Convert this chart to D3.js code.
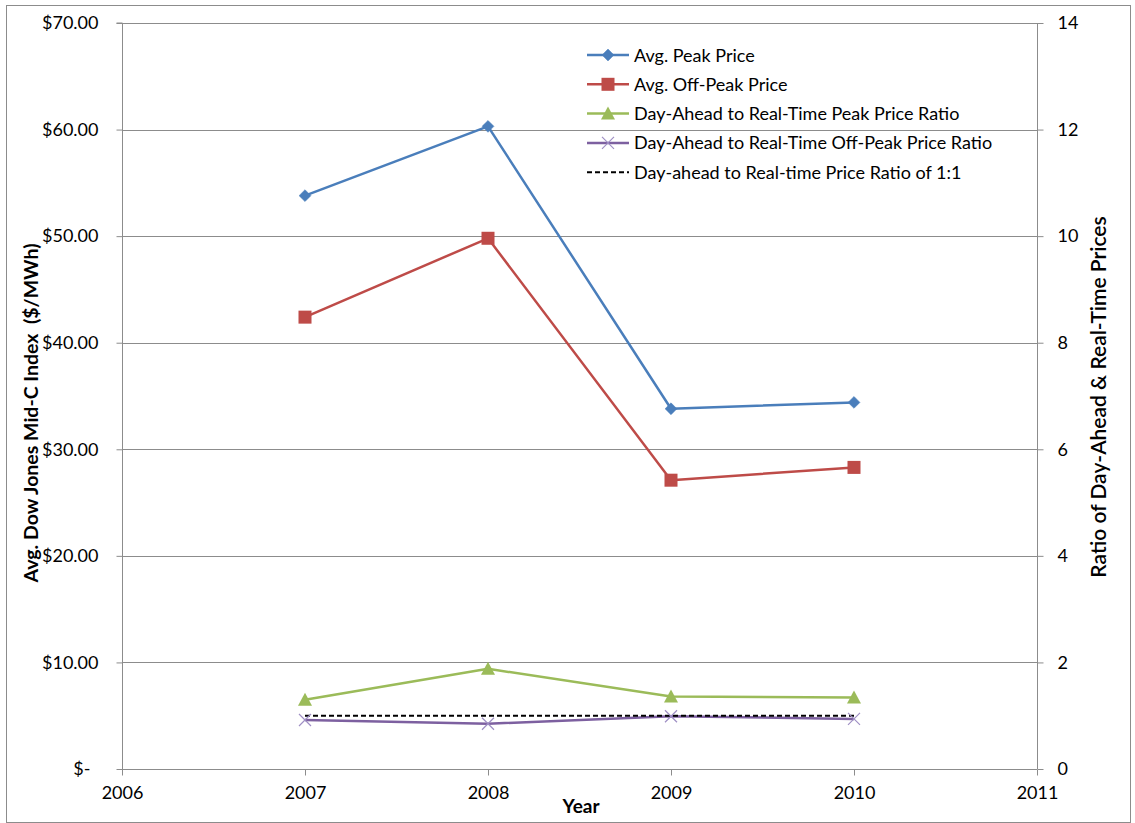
<!DOCTYPE html>
<html><head><meta charset="utf-8">
<script src="https://cdn.jsdelivr.net/npm/d3@7"></script>
<style>
body{margin:0;background:#fff;}
text{font-family:Lato,"Open Sans",sans-serif;fill:#000;}
</style></head>
<body><svg id="c" width="1135" height="823"></svg>
<script>
const years = [2007, 2008, 2009, 2010];
const peakPrice = [53.8, 60.3, 33.8, 34.4];
const offPeakPrice = [42.4, 49.8, 27.1, 28.3];
const peakRatio = [1.30, 1.88, 1.36, 1.34];
const offPeakRatio = [0.92, 0.85, 0.99, 0.94];
const parityRatio = [1, 1, 1, 1];
const xTicks = [2006, 2007, 2008, 2009, 2010, 2011];
const leftTicks = [0, 10, 20, 30, 40, 50, 60, 70];
const rightTicks = [0, 2, 4, 6, 8, 10, 12, 14];
const legendLabels = ["Avg. Peak Price", "Avg. Off-Peak Price", "Day-Ahead to Real-Time Peak Price Ratio",
  "Day-Ahead to Real-Time Off-Peak Price Ratio", "Day-ahead to Real-time Price Ratio of 1:1"];

const svg = d3.select("#c");
const L = 122, R = 1037, T = 23, B = 769;
const x = d3.scaleLinear().domain([2006, 2011]).range([L, R]);
const yL = d3.scaleLinear().domain([0, 70]).range([B, T]);
const yR = d3.scaleLinear().domain([0, 14]).range([B, T]);
const grid = "#8c8c8c";
const tickFont = 18;

// outer border
svg.append("rect").attr("x", 6.5).attr("y", 5.5).attr("width", 1124).attr("height", 817)
  .attr("fill", "none").attr("stroke", "#8c8c8c").attr("stroke-width", 1);

// gridlines
svg.append("g").selectAll("line").data(leftTicks.filter(d => d > 0)).join("line")
  .attr("x1", L).attr("x2", R).attr("y1", d => Math.round(yL(d)) + 0.5).attr("y2", d => Math.round(yL(d)) + 0.5)
  .attr("stroke", grid).attr("stroke-width", 1);

const fmt = d => d === 0 ? "$-" : "$" + d.toFixed(2);
const axL = svg.append("g").attr("transform", `translate(${L + 0.5},0)`)
  .call(d3.axisLeft(yL).tickValues(leftTicks).tickFormat(fmt).tickSize(6).tickPadding(18));
const axR = svg.append("g").attr("transform", `translate(${R + 0.5},0)`)
  .call(d3.axisRight(yR).tickValues(rightTicks).tickFormat(d => d).tickSize(6).tickPadding(14));
const axB = svg.append("g").attr("transform", `translate(0,${B + 0.5})`)
  .call(d3.axisBottom(x).tickValues(xTicks).tickFormat(d => d).tickSize(6).tickPadding(11));
[axL, axR, axB].forEach(a => {
  a.selectAll("path").attr("stroke", grid);
  a.selectAll("line").attr("stroke", grid);
  a.selectAll("text").attr("font-size", tickFont).attr("fill", "#262626")
    .style("font-family", "Lato, 'Open Sans', sans-serif");
});
axL.select("path").attr("d", `M-6,${T}H0V${B + 6}`);
axR.select("path").attr("d", `M0,${T}V${B}`);
axB.select("path").attr("d", `M${L},0H${R}`);
axL.selectAll(".tick").filter(d => d === 0).select("text").attr("dx", -8);

// titles
svg.append("text").attr("x", 581).attr("y", 813).attr("text-anchor", "middle")
  .attr("font-size", 19).attr("font-weight", "bold").text("Year");
svg.append("text").attr("transform", "translate(38,413) rotate(-90)").attr("text-anchor", "middle")
  .attr("font-size", 19.5).attr("font-weight", "bold").style("white-space", "pre")
  .text("Avg. Dow Jones Mid-C Index  ($/MWh)");
svg.append("text").attr("transform", "translate(1106,397) rotate(-90)").attr("text-anchor", "middle")
  .attr("font-size", 21).attr("font-weight", 600).text("Ratio of Day-Ahead & Real-Time Prices");

const blue = "#4a7ebb", red = "#be4b48", green = "#9bbb59", purple = "#7d60a0";

function series(vals, yS, color, w, dash) {
  const line = d3.line().x((d, i) => x(years[i])).y(d => yS(d));
  svg.append("path").datum(vals).attr("d", line).attr("fill", "none")
    .attr("stroke", color).attr("stroke-width", w).attr("stroke-dasharray", dash || null)
    .attr("stroke-linejoin", "round");
}
function markers(vals, yS, kind) {
  const g = svg.append("g");
  vals.forEach((v, i) => drawMarker(g, x(years[i]), yS(v), kind));
}
function drawMarker(g, cx, cy, kind) {
  if (kind === "diamond") {
    g.append("path").attr("d", d3.symbol(d3.symbolDiamond2, 90)()).attr("transform", `translate(${cx},${cy})`)
      .attr("fill", blue).attr("stroke", blue).attr("stroke-width", 0.5);
  } else if (kind === "square") {
    g.append("rect").attr("x", cx - 6.5).attr("y", cy - 6.5).attr("width", 13).attr("height", 13).attr("fill", red);
  } else if (kind === "triangle") {
    g.append("path").attr("d", `M${cx},${cy - 7}L${cx + 7},${cy + 6}L${cx - 7},${cy + 6}Z`).attr("fill", green);
  } else if (kind === "x") {
    g.append("path").attr("d", `M${cx - 6},${cy - 6}L${cx + 6},${cy + 6}M${cx - 6},${cy + 6}L${cx + 6},${cy - 6}`)
      .attr("stroke", "#9f8fc4").attr("stroke-width", 1.2);
  }
}

series(peakPrice, yL, blue, 2.5);
series(offPeakPrice, yL, red, 2.5);
series(peakRatio, yR, green, 2.5);
series(offPeakRatio, yR, purple, 2.5);
series(parityRatio, yR, "#000", 2, "5,3");
markers(peakPrice, yL, "diamond");
markers(offPeakPrice, yL, "square");
markers(peakRatio, yR, "triangle");
markers(offPeakRatio, yR, "x");

// legend
const kinds = ["diamond", "square", "triangle", "x", null];
const colors = [blue, red, green, purple, "#000"];
const lg = svg.append("g");
legendLabels.forEach((lab, i) => {
  const yy = 55 + i * 29.3;
  lg.append("line").attr("x1", 587).attr("x2", 629).attr("y1", yy).attr("y2", yy)
    .attr("stroke", colors[i]).attr("stroke-width", i === 4 ? 2 : 2.5)
    .attr("stroke-dasharray", i === 4 ? "5,3" : null);
  if (kinds[i]) drawMarker(lg, 608, yy, kinds[i]);
  lg.append("text").attr("x", 634).attr("y", yy + 6.5).attr("font-size", 18).attr("fill", "#262626").text(lab);
});
</script></body></html>
